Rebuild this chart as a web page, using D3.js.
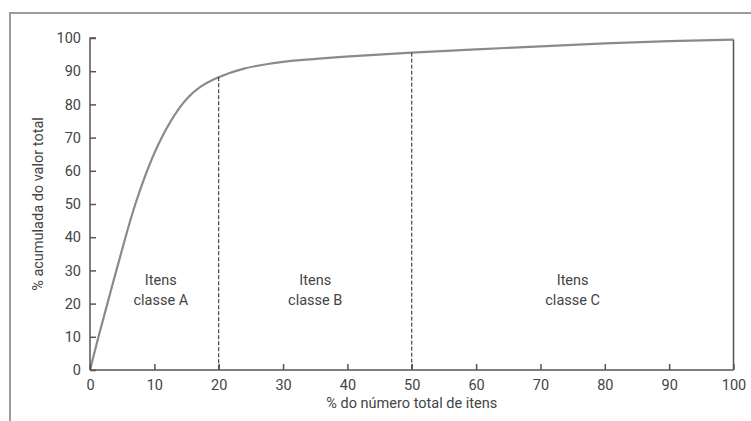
<!DOCTYPE html>
<html>
<head>
<meta charset="utf-8">
<script src="https://cdn.jsdelivr.net/npm/d3@7"></script>
<style>
  html, body { margin: 0; padding: 0; background: #fff; }
  svg { display: block; font-family: Roboto, "Open Sans", sans-serif; }
</style>
</head>
<body>
<svg id="chart" width="751" height="421"></svg>
<script>
// ---- data ----
const curveX = [0, 1.3, 2.7, 4.1, 5.5, 7.0, 8.8, 11.0, 14.0, 16.6, 20, 23.8, 27.5, 32, 40, 50, 60, 70, 80, 90, 100];
const curveY = [0, 10, 20, 30, 40, 50, 60, 70, 79.8, 85.0, 88.4, 90.9, 92.2, 93.3, 94.5, 95.6, 96.6, 97.5, 98.4, 99.1, 99.5];
const xTicks = [0, 10, 20, 30, 40, 50, 60, 70, 80, 90, 100];
const yTicks = [0, 10, 20, 30, 40, 50, 60, 70, 80, 90, 100];
const boundaries = [20, 50];
const classLabels = ["classe A", "classe B", "classe C"];
const classCenters = [11, 35, 75];
const xTitle = "% do número total de itens";
const yTitle = "% acumulada do valor total";

// ---- layout ----
const svg = d3.select("#chart");
const x = d3.scaleLinear().domain([0, 100]).range([90, 733.5]);
const y = d3.scaleLinear().domain([0, 100]).range([370, 38]);
const axisColor = "#555";
const textColor = "#444";

// frame
svg.append("path")
  .attr("d", "M10,421 L10,13 L751,13")
  .attr("fill", "none").attr("stroke", "#9b9b9b").attr("stroke-width", 2);

const pts = curveX.map((d, i) => [d, curveY[i]]);

// curve
const curvePath = svg.append("path")
  .datum(pts)
  .attr("d", d3.line().x(d => x(d[0])).y(d => y(d[1])).curve(d3.curveBasis))
  .attr("fill", "none").attr("stroke", "#8a8a8a").attr("stroke-width", 2.2);

// find pixel y of curve at a given pixel x
const node = curvePath.node();
const total = node.getTotalLength();
function curveYAt(px) {
  let lo = 0, hi = total;
  for (let k = 0; k < 40; k++) {
    const mid = (lo + hi) / 2;
    if (node.getPointAtLength(mid).x < px) lo = mid; else hi = mid;
  }
  return node.getPointAtLength(lo).y;
}

// dashed boundary lines
svg.selectAll("line.bound").data(boundaries).enter().append("line")
  .attr("class", "bound")
  .attr("x1", d => x(d)).attr("x2", d => x(d))
  .attr("y1", d => curveYAt(x(d))).attr("y2", y(0))
  .attr("stroke", "#222").attr("stroke-width", 1)
  .attr("stroke-dasharray", "4,2");

// right edge line
svg.append("line")
  .attr("x1", x(100)).attr("x2", x(100))
  .attr("y1", y(curveY[curveY.length-1])).attr("y2", y(0))
  .attr("stroke", axisColor).attr("stroke-width", 1.5);

// axes
const xAxis = d3.axisBottom(x).tickValues(xTicks).tickSize(-6).tickPadding(10).tickFormat(d3.format("d"));
const gx = svg.append("g").attr("transform", `translate(0,${y(0)})`).call(xAxis);
const yAxis = d3.axisLeft(y).tickValues(yTicks).tickSize(-6).tickPadding(9).tickFormat(d3.format("d"));
const gy = svg.append("g").attr("transform", `translate(${x(0)},0)`).call(yAxis);
[gx, gy].forEach(g => {
  g.select(".domain").attr("stroke", axisColor).attr("stroke-width", 1.5);
  g.selectAll(".tick line").attr("stroke", axisColor).attr("stroke-width", 1.5);
  g.selectAll(".tick text").attr("fill", textColor).style("font-size", "14.5px").style("font-family", "Roboto");
});
gx.select(".domain").attr("d", `M${x(0)},0H${x(100)}`);
gy.select(".domain").attr("d", `M6,${y(100)}H0V${y(0)}`);

// class labels
const lbl = svg.selectAll("text.cls").data(classLabels).enter().append("text")
  .attr("class", "cls")
  .attr("text-anchor", "middle")
  .attr("fill", textColor)
  .style("font-size", "14.5px");
lbl.append("tspan").attr("x", (d, i) => x(classCenters[i])).attr("y", 285).text("Itens");
lbl.append("tspan").attr("x", (d, i) => x(classCenters[i])).attr("y", 305).text(d => d);

// axis titles
svg.append("text")
  .attr("x", x(50)).attr("y", 408)
  .attr("text-anchor", "middle").attr("fill", textColor)
  .style("font-size", "14.5px").text(xTitle);
svg.append("text")
  .attr("transform", `translate(43,${y(50)}) rotate(-90)`)
  .attr("text-anchor", "middle").attr("fill", textColor)
  .style("font-size", "14.5px").text(yTitle);
</script>
</body>
</html>
